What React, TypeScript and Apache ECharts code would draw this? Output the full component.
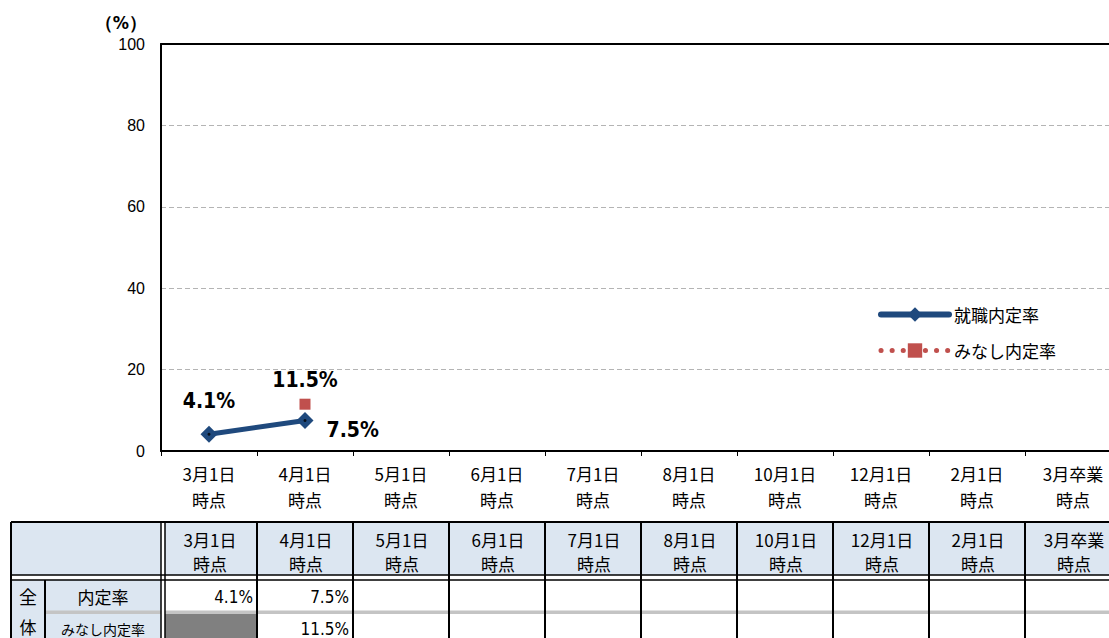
import React, { useEffect, useRef } from "react";
import * as echarts from "echarts";

const categories = ["3月1日\n時点", "4月1日\n時点", "5月1日\n時点", "6月1日\n時点", "7月1日\n時点", "8月1日\n時点", "10月1日\n時点", "12月1日\n時点", "2月1日\n時点", "3月卒業\n時点"];
const naiteiRate: (number | null)[] = [4.1, 7.5, null, null, null, null, null, null, null, null];
const minashiRate: (number | null)[] = [null, 11.5, null, null, null, null, null, null, null, null];
const yTicks = { min: 0, max: 100, interval: 20 };
const seriesNames = ["就職内定率", "みなし内定率"];
const tableRowLabels = ["内定率", "みなし内定率"];
const groupLabel = ["全", "体"];

const NAVY = "#1f497d";
const RED = "#c0504d";
const JP = "'Noto Sans CJK JP', 'Noto Sans', sans-serif";
const NARROW = "'DejaVu Sans Condensed', 'Liberation Sans Narrow', sans-serif";

export default function App() {
  const ref = useRef<HTMLDivElement>(null);
  useEffect(() => {
    if (!ref.current) return;
    const chart = echarts.init(ref.current, undefined, { renderer: "svg" });

    const gridLeft = 161;
    const colW = 96;
    const n = categories.length;
    const tableTop = 522;
    const headBot1 = 575;
    const headBot2 = 580;
    const sepY = 612;
    const bottom = 660;
    const dataLeft = 165;
    const fullRight = gridLeft + colW * n + 20;

    const g: any[] = [];
    g.push({ type: "rect", shape: { x: 11, y: tableTop, width: fullRight - 11, height: headBot2 - tableTop }, style: { fill: "#dce6f1" } });
    g.push({ type: "rect", shape: { x: 11, y: headBot2, width: gridLeft - 11, height: bottom - headBot2 }, style: { fill: "#dce6f1" } });
    g.push({ type: "rect", shape: { x: dataLeft, y: headBot2, width: fullRight - dataLeft, height: bottom - headBot2 }, style: { fill: "#ffffff" } });
    minashiRate.forEach((v, i) => {
      if (i === 0 && v === null) {
        g.push({ type: "rect", shape: { x: dataLeft, y: sepY + 2, width: gridLeft + colW - dataLeft, height: bottom - sepY }, style: { fill: "#808080" } });
      }
    });
    g.push({ type: "rect", shape: { x: 45, y: sepY - 1.5, width: fullRight - 45, height: 3.5 }, style: { fill: "#c4c4c4" } });
    g.push({ type: "rect", shape: { x: 11, y: headBot1, width: fullRight - 11, height: headBot2 - headBot1 }, style: { fill: "#ffffff" } });
    g.push({ type: "rect", shape: { x: gridLeft, y: tableTop, width: dataLeft - gridLeft, height: bottom - tableTop }, style: { fill: "#ffffff" } });
    const ls = { stroke: "#000", lineWidth: 2 };
    const thin = { stroke: "#000", lineWidth: 1.5 };
    g.push({ type: "line", shape: { x1: 11, y1: tableTop, x2: fullRight, y2: tableTop }, style: ls });
    g.push({ type: "line", shape: { x1: 11, y1: tableTop, x2: 11, y2: bottom }, style: ls });
    g.push({ type: "line", shape: { x1: 11, y1: headBot1, x2: fullRight, y2: headBot1 }, style: thin });
    g.push({ type: "line", shape: { x1: 11, y1: headBot2, x2: fullRight, y2: headBot2 }, style: thin });
    g.push({ type: "line", shape: { x1: gridLeft, y1: tableTop, x2: gridLeft, y2: bottom }, style: thin });
    g.push({ type: "line", shape: { x1: dataLeft, y1: tableTop, x2: dataLeft, y2: bottom }, style: thin });
    g.push({ type: "line", shape: { x1: 45, y1: headBot2, x2: 45, y2: bottom }, style: ls });
    for (let i = 1; i <= n; i++) {
      const x = gridLeft + colW * i;
      g.push({ type: "line", shape: { x1: x, y1: tableTop, x2: x, y2: bottom }, style: ls });
    }
    categories.forEach((c, i) => {
      const cx = gridLeft + colW * i + colW / 2 + 1;
      c.split("\n").forEach((t, k) => {
        g.push({ type: "text", x: cx, y: 539 + k * 24, style: { text: t, font: `17px ${JP}`, fill: "#000", align: "center", verticalAlign: "middle" } });
      });
    });
    g.push({ type: "text", x: 28, y: 596, style: { text: groupLabel[0], font: `18px ${JP}`, fill: "#000", align: "center", verticalAlign: "middle" } });
    g.push({ type: "text", x: 28, y: 626, style: { text: groupLabel[1], font: `17px ${JP}`, fill: "#000", align: "center", verticalAlign: "middle" } });
    g.push({ type: "text", x: 103, y: 596, style: { text: tableRowLabels[0], font: `17px ${JP}`, fill: "#000", align: "center", verticalAlign: "middle" } });
    g.push({ type: "text", x: 103, y: 629, style: { text: tableRowLabels[1], font: `14px ${JP}`, fill: "#000", align: "center", verticalAlign: "middle" } });
    const rows = [naiteiRate, minashiRate];
    rows.forEach((arr, r) => {
      arr.forEach((v, i) => {
        if (v === null) return;
        g.push({
          type: "text",
          x: gridLeft + colW * (i + 1) - 4,
          y: r === 0 ? 597 : 629,
          style: { text: v.toFixed(1) + "%", font: `17px ${NARROW}`, fill: "#000", align: "right", verticalAlign: "middle" },
        });
      });
    });

    const labelFont = {
      fontFamily: NARROW,
      fontWeight: "bold" as const,
      fontSize: 21,
      color: "#000",
    };

    chart.setOption({
      animation: false,
      textStyle: { fontFamily: JP },
      grid: { left: gridLeft, top: 44, width: colW * n, bottom: 187, containLabel: false },
      legend: {
        orient: "vertical",
        left: 878,
        top: 306,
        padding: 0,
        itemWidth: 68,
        itemHeight: 18,
        itemGap: 19,
        data: [
          { name: seriesNames[0], lineStyle: { width: 6, cap: "round" } },
          { name: seriesNames[1], lineStyle: { width: 5, type: [0.1, 11], cap: "round" } },
        ],
        textStyle: { fontSize: 17, color: "#000", fontFamily: JP },
      },
      xAxis: [
        {
          type: "category",
          data: categories,
          boundaryGap: true,
          axisLine: { lineStyle: { color: "#000", width: 2 } },
          axisTick: { show: true, length: 5, lineStyle: { color: "#000", width: 1 } },
          axisLabel: { color: "#000", fontSize: 17, lineHeight: 26, margin: 9, fontFamily: JP, interval: 0 },
          splitLine: { show: false },
        },
        {
          type: "category",
          position: "top",
          data: categories,
          axisLine: { lineStyle: { color: "#000", width: 2 } },
          axisTick: { show: false },
          axisLabel: { show: false },
          z: 3,
        },
      ],
      yAxis: {
        type: "value",
        min: yTicks.min,
        max: yTicks.max,
        interval: yTicks.interval,
        name: "（%）",
        nameLocation: "end",
        nameGap: 13,
        nameTextStyle: { color: "#000", fontSize: 18, fontWeight: "bold", align: "right", verticalAlign: "bottom", padding: [0, 14, 0, 0], fontFamily: NARROW },
        axisLine: { show: true, lineStyle: { color: "#000", width: 2 } },
        axisTick: { show: false },
        axisLabel: { color: "#000", fontSize: 16, margin: 16, fontFamily: "'Liberation Sans', sans-serif" },
        splitLine: { show: true, lineStyle: { color: "#b4b4b4", type: [5, 3], width: 1 } },
      },
      series: [
        {
          name: seriesNames[0],
          type: "line",
          data: naiteiRate.map((v, i) =>
            v === null
              ? null
              : {
                  value: v,
                  label:
                    i === 0
                      ? { show: true, position: "top", distance: 14, formatter: "{c}%", ...labelFont }
                      : { show: true, position: "right", distance: 13, offset: [0, 10], formatter: "{c}%", ...labelFont },
                }
          ),
          symbol: "diamond",
          symbolSize: 17,
          itemStyle: { color: NAVY },
          lineStyle: { color: NAVY, width: 5 },
          z: 3,
        },
        {
          name: seriesNames[1],
          type: "line",
          data: minashiRate.map((v) =>
            v === null ? null : { value: v, label: { show: true, position: "top", distance: 8, formatter: "{c}%", ...labelFont } }
          ),
          symbol: "rect",
          symbolSize: 11,
          itemStyle: { color: RED },
          lineStyle: { color: RED, width: 4, type: [0.1, 9], cap: "round" },
          z: 2,
        },
        {
          name: "center",
          type: "scatter",
          data: naiteiRate,
          symbol: "circle",
          symbolSize: 3,
          itemStyle: { color: "#000" },
          silent: true,
          z: 4,
        },
      ],
      graphic: { elements: g },
    });
    return () => chart.dispose();
  }, []);

  return (
    <div style={{ position: "fixed", left: 0, top: 0, width: 1109, height: 638, overflow: "hidden", background: "#fff" }}>
      <div ref={ref} style={{ width: 1140, height: 638 }} />
    </div>
  );
}
